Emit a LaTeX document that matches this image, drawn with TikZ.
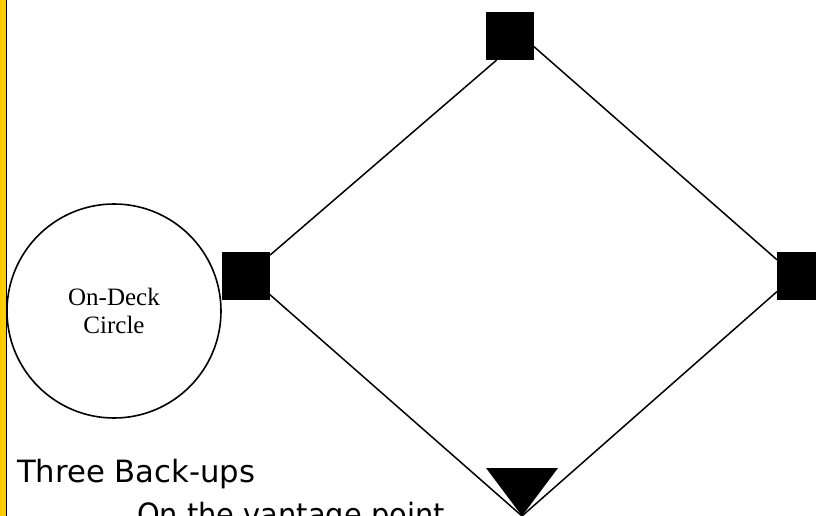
\documentclass[tikz,border=0pt]{standalone}
\usepackage{fontspec}
\setmainfont{Liberation Serif}
\newfontfamily\handfont{DejaVu Sans}
\usetikzlibrary{positioning}
\definecolor{barYellow}{RGB}{255,204,0}
\tikzset{
    base/.style={fill=black,minimum size=48pt,inner sep=0pt,outer sep=0pt},
    fieldLine/.style={line width=1.5pt},
    handText/.style={anchor=base west,inner sep=0pt,font=\handfont\fontsize{30.7}{36}\selectfont}
}
\newcommand{\myBase}[3]{
    \node[base] (#3) at (#1,#2) {};
}

\begin{document}
\begin{tikzpicture}[x=1pt,y=-1pt]
      \useasboundingbox (0,0) rectangle (816,516);
      \clip (0,0) rectangle (816,516);

      \fill[barYellow] (0,0) rectangle (6,516);
      \draw[line width=1.5pt] (6.5,0) -- (6.5,516);

      \node[circle,draw,line width=1.6pt,minimum size=214pt,inner sep=0pt,align=center,
            font=\fontsize{25}{28}\selectfont] (onDeck) at (114,311) {On-Deck\\Circle};

      \myBase{510}{36}{second}
      \myBase{246}{276}{third}
      \myBase{801}{276}{first}

      \fill (486,468) -- (558,468) -- (522,516) -- cycle;
      \coordinate (home) at (522,516);

      \draw[fieldLine] (second.241.6) -- (third.41.2);
      \draw[fieldLine] (second.-24.6) -- (first.146.3);
      \draw[fieldLine] (third.-38.4) -- (home);
      \draw[fieldLine] (first.213.7) -- (home);

      \node[handText] (backups) at (17,482) {Three Back-ups};
      \node[handText,xscale=0.94] (vantage) at (137,525) {On the vantage point};
  \end{tikzpicture}
\end{document}
